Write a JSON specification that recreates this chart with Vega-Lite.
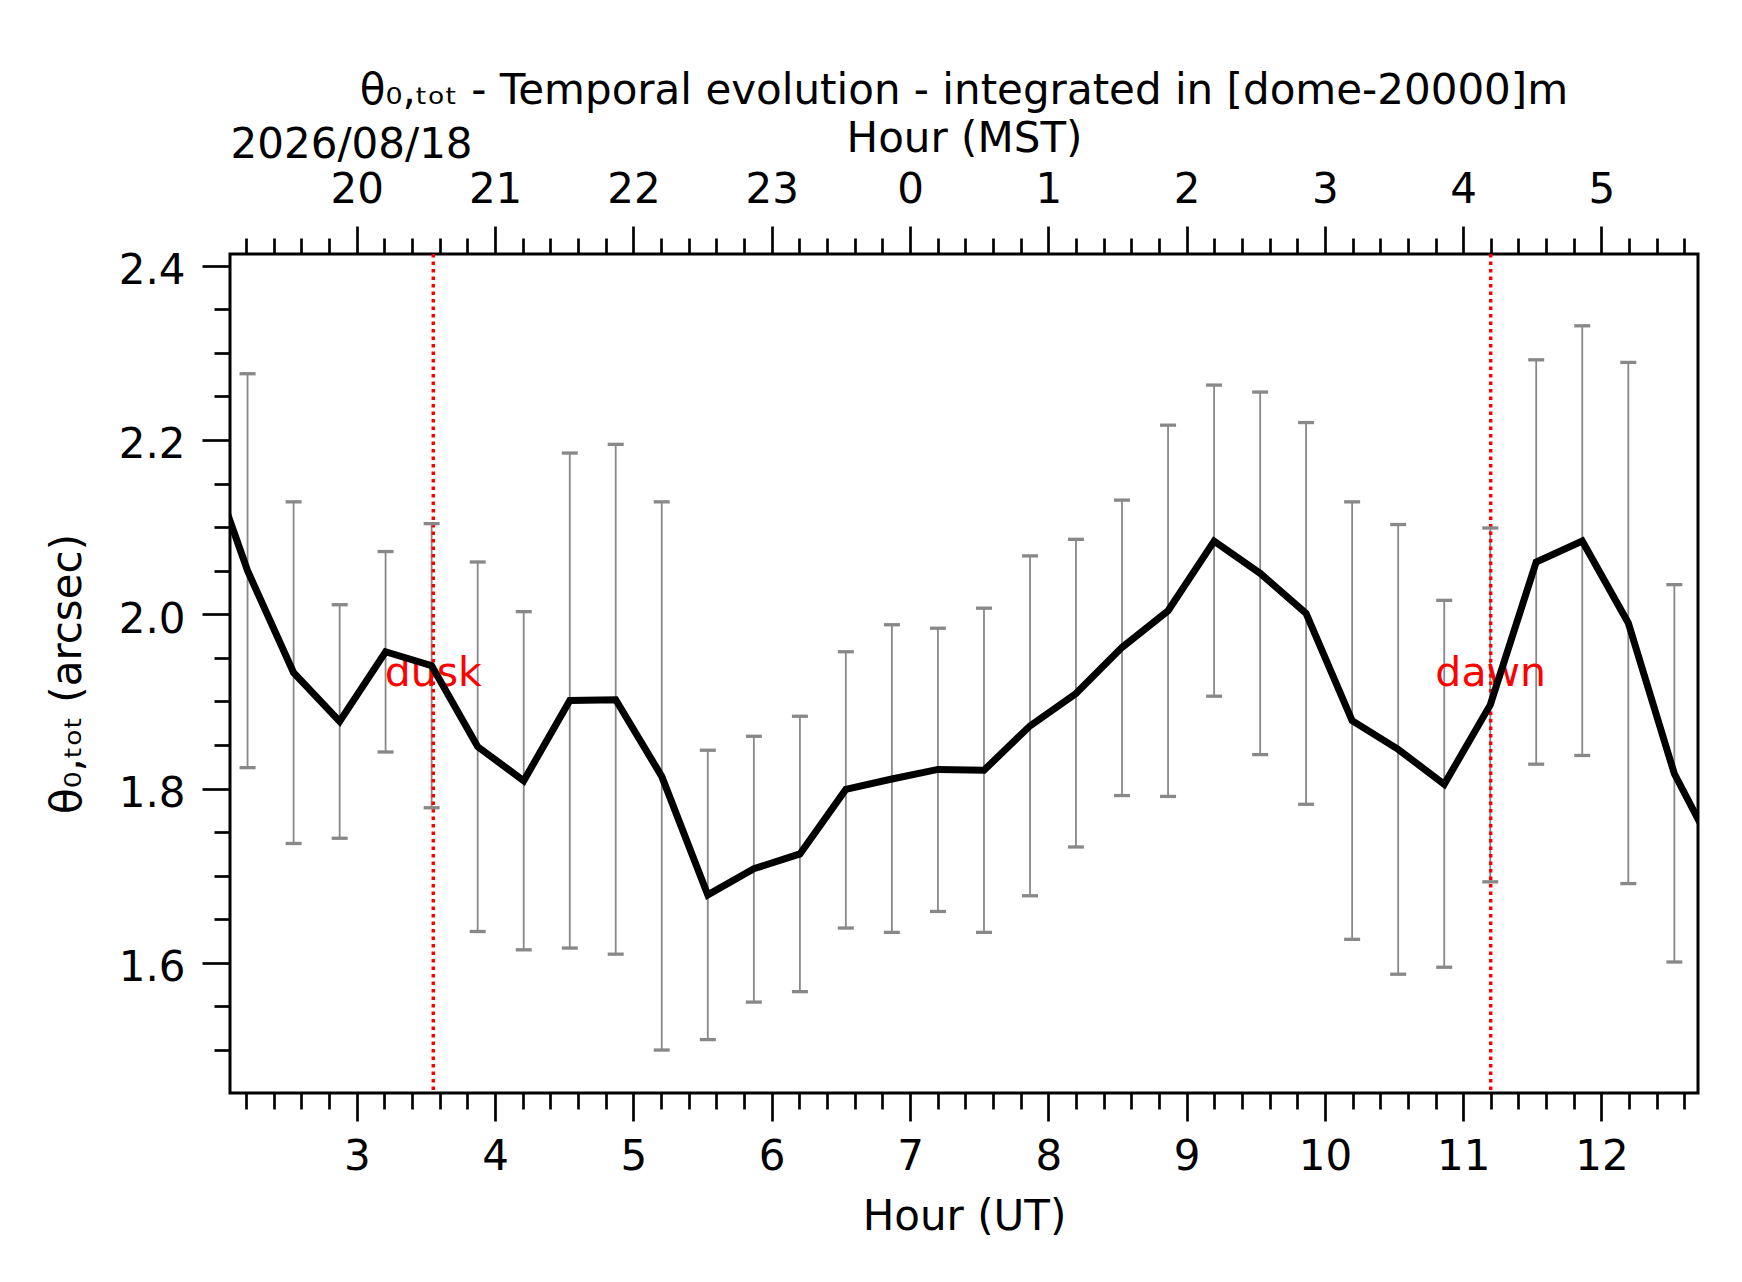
{
  "$schema": "https://vega.github.io/schema/vega-lite/v6.json",
  "width": 1468,
  "height": 839,
  "autosize": {"type": "none"},
  "padding": {"left": 230, "top": 254, "right": 44, "bottom": 189},
  "background": "white",
  "title": {
    "text": "θ₀,ₜₒₜ - Temporal evolution - integrated in [dome-20000]m",
    "frame": "group", "anchor": "middle", "baseline": "alphabetic", "offset": -29,
    "font": "DejaVu Sans", "fontSize": 42, "fontWeight": "normal", "color": "black"
  },
  "datasets": {
    "obs": [
      {"t": 1.877, "m": 2.200},
      {"t": 2.210, "m": 2.050, "hi": 2.276, "lo": 1.824},
      {"t": 2.543, "m": 1.933, "hi": 2.129, "lo": 1.737},
      {"t": 2.876, "m": 1.877, "hi": 2.011, "lo": 1.743},
      {"t": 3.208, "m": 1.957, "hi": 2.072, "lo": 1.842},
      {"t": 3.541, "m": 1.941, "hi": 2.104, "lo": 1.778},
      {"t": 3.874, "m": 1.848, "hi": 2.060, "lo": 1.636},
      {"t": 4.207, "m": 1.809, "hi": 2.003, "lo": 1.615},
      {"t": 4.540, "m": 1.901, "hi": 2.185, "lo": 1.617},
      {"t": 4.872, "m": 1.902, "hi": 2.195, "lo": 1.610},
      {"t": 5.205, "m": 1.814, "hi": 2.129, "lo": 1.500},
      {"t": 5.538, "m": 1.678, "hi": 1.844, "lo": 1.512},
      {"t": 5.871, "m": 1.708, "hi": 1.860, "lo": 1.555},
      {"t": 6.204, "m": 1.725, "hi": 1.883, "lo": 1.567},
      {"t": 6.536, "m": 1.799, "hi": 1.957, "lo": 1.640},
      {"t": 6.869, "m": 1.811, "hi": 1.988, "lo": 1.635},
      {"t": 7.202, "m": 1.822, "hi": 1.984, "lo": 1.659},
      {"t": 7.535, "m": 1.821, "hi": 2.007, "lo": 1.635},
      {"t": 7.868, "m": 1.872, "hi": 2.067, "lo": 1.677},
      {"t": 8.200, "m": 1.909, "hi": 2.086, "lo": 1.733},
      {"t": 8.533, "m": 1.962, "hi": 2.131, "lo": 1.792},
      {"t": 8.866, "m": 2.004, "hi": 2.217, "lo": 1.791},
      {"t": 9.199, "m": 2.084, "hi": 2.263, "lo": 1.906},
      {"t": 9.532, "m": 2.047, "hi": 2.255, "lo": 1.839},
      {"t": 9.864, "m": 2.001, "hi": 2.220, "lo": 1.782},
      {"t": 10.197, "m": 1.878, "hi": 2.129, "lo": 1.627},
      {"t": 10.530, "m": 1.845, "hi": 2.103, "lo": 1.587},
      {"t": 10.863, "m": 1.805, "hi": 2.016, "lo": 1.595},
      {"t": 11.196, "m": 1.896, "hi": 2.099, "lo": 1.693},
      {"t": 11.528, "m": 2.060, "hi": 2.292, "lo": 1.828},
      {"t": 11.861, "m": 2.084, "hi": 2.331, "lo": 1.838},
      {"t": 12.194, "m": 1.990, "hi": 2.289, "lo": 1.691},
      {"t": 12.527, "m": 1.817, "hi": 2.034, "lo": 1.601},
      {"t": 12.860, "m": 1.716}
    ],
    "sun": [
      {"t": 3.553, "label": "dusk"},
      {"t": 11.199, "label": "dawn"}
    ]
  },
  "layer": [
    {
      "data": {"name": "obs"},
      "mark": {"type": "rule", "color": "#888888", "strokeWidth": 1.8, "clip": true},
      "encoding": {
        "x": {"field": "t", "type": "quantitative",
          "scale": {"domain": [2.083, 12.698], "nice": false, "zero": false},
          "axis": {"orient": "bottom", "tickSize": 16, "labels": false, "title": null,
            "values": [2.2,2.4,2.6,2.8,3.2,3.4,3.6,3.8,4.2,4.4,4.6,4.8,5.2,5.4,5.6,5.8,6.2,6.4,6.6,6.8,7.2,7.4,7.6,7.8,8.2,8.4,8.6,8.8,9.2,9.4,9.6,9.8,10.2,10.4,10.6,10.8,11.2,11.4,11.6,11.8,12.2,12.4,12.6]}},
        "y": {"field": "lo", "type": "quantitative",
          "scale": {"domain": [1.4507, 2.4134], "nice": false, "zero": false},
          "axis": {"orient": "left", "tickSize": 16, "labels": false, "title": null,
            "values": [1.5,1.55,1.65,1.7,1.75,1.85,1.9,1.95,2.05,2.1,2.15,2.25,2.3,2.35]}},
        "y2": {"field": "hi"}
      }
    },
    {
      "data": {"name": "sun"},
      "mark": {"type": "rule", "color": "red", "strokeWidth": 3.5, "strokeDash": [3.5, 4]},
      "encoding": {
        "x": {"field": "t", "type": "quantitative", "axis": null}
      }
    },
    {
      "data": {"name": "sun"},
      "mark": {"type": "text", "color": "red", "font": "DejaVu Sans", "fontSize": 41, "align": "center", "baseline": "alphabetic"},
      "encoding": {
        "x": {"field": "t", "type": "quantitative", "axis": null},
        "y": {"datum": 1.918, "type": "quantitative", "axis": null},
        "text": {"field": "label"}
      }
    },
    {
      "data": {"name": "obs"},
      "mark": {"type": "tick", "orient": "horizontal", "color": "#888888", "size": 16, "thickness": 3.3, "opacity": 1, "clip": true},
      "encoding": {
        "x": {"field": "t", "type": "quantitative",
          "axis": {"orient": "top", "tickSize": 28, "labelPadding": 15, "labelOverlap": false,
            "values": [3,4,5,6,7,8,9,10,11,12],
            "labelExpr": "(datum.value + 17) % 24",
            "title": "Hour (MST)", "titleX": 734, "titleY": -103, "titleAlign": "center", "titleBaseline": "alphabetic"}},
        "y": {"field": "lo", "type": "quantitative", "axis": null}
      }
    },
    {
      "data": {"name": "obs"},
      "mark": {"type": "tick", "orient": "horizontal", "color": "#888888", "size": 16, "thickness": 3.3, "opacity": 1, "clip": true},
      "encoding": {
        "x": {"field": "t", "type": "quantitative",
          "axis": {"orient": "top", "tickSize": 16, "labels": false,
            "values": [2.2,2.4,2.6,2.8,3.2,3.4,3.6,3.8,4.2,4.4,4.6,4.8,5.2,5.4,5.6,5.8,6.2,6.4,6.6,6.8,7.2,7.4,7.6,7.8,8.2,8.4,8.6,8.8,9.2,9.4,9.6,9.8,10.2,10.4,10.6,10.8,11.2,11.4,11.6,11.8,12.2,12.4,12.6],
            "title": "2026/08/18", "titleX": 0, "titleY": -97, "titleAlign": "left", "titleBaseline": "alphabetic"}},
        "y": {"field": "hi", "type": "quantitative", "axis": null}
      }
    },
    {
      "data": {"name": "obs"},
      "mark": {"type": "line", "color": "black", "strokeWidth": 7, "clip": true},
      "encoding": {
        "x": {"field": "t", "type": "quantitative",
          "axis": {"orient": "bottom", "tickSize": 28, "labelPadding": 15, "labelOverlap": false,
            "values": [3,4,5,6,7,8,9,10,11,12], "format": "d",
            "title": "Hour (UT)", "titleX": 734, "titleY": 103, "titleAlign": "center", "titleBaseline": "top"}},
        "y": {"field": "m", "type": "quantitative",
          "axis": {"orient": "left", "tickSize": 28, "labelPadding": 17, "labelOffset": 5, "labelOverlap": false,
            "values": [1.6, 1.8, 2.0, 2.2, 2.4], "format": ".1f",
            "title": "θ₀,ₜₒₜ (arcsec)", "titleX": -150, "titleY": 419.5, "titleAngle": 270, "titleAlign": "center", "titleBaseline": "alphabetic"}}
      }
    }
  ],
  "resolve": {"axis": {"x": "independent", "y": "independent"}},
  "config": {
    "view": {"stroke": "black", "strokeWidth": 3},
    "axis": {
      "domain": false, "grid": false,
      "tickColor": "black", "tickWidth": 2.7,
      "labelFont": "DejaVu Sans", "labelFontSize": 42, "labelColor": "black",
      "titleFont": "DejaVu Sans", "titleFontSize": 42, "titleFontWeight": "normal", "titleColor": "black"
    }
  }
}
